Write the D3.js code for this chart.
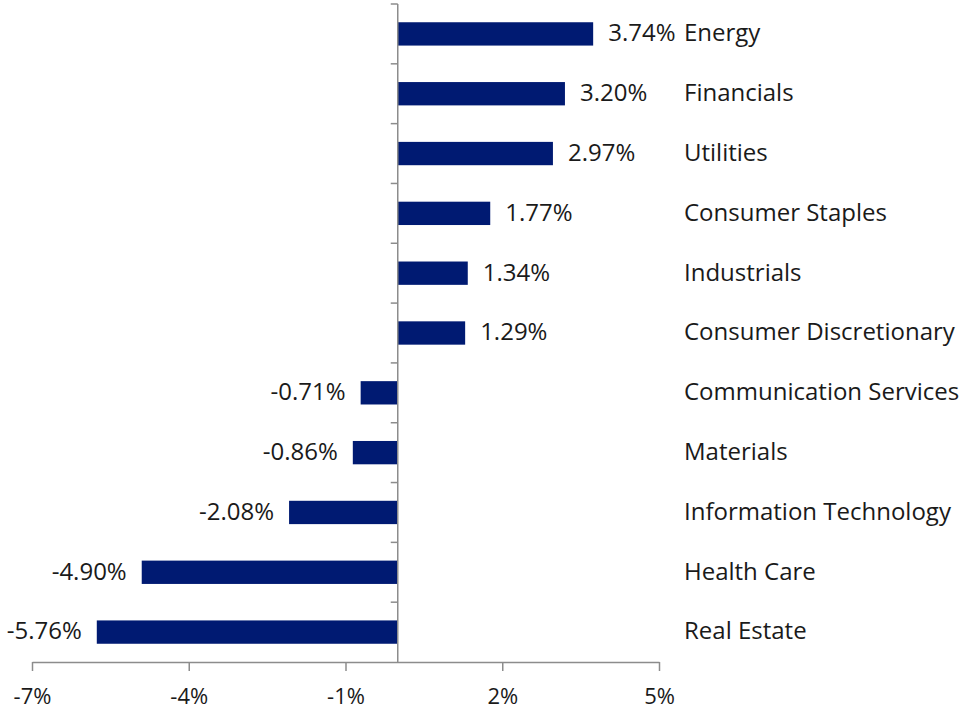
<!DOCTYPE html>
<html>
<head>
<meta charset="utf-8">
<script src="https://cdn.jsdelivr.net/npm/d3@7"></script>
<style>
  body { margin: 0; background: #fff; }
  text { font-family: "Open Sans", sans-serif; fill: #1a1a1a; }
</style>
</head>
<body>
<svg id="chart" width="964" height="717"></svg>
<script>
var sectors = ["Energy", "Financials", "Utilities", "Consumer Staples", "Industrials",
  "Consumer Discretionary", "Communication Services", "Materials",
  "Information Technology", "Health Care", "Real Estate"];
var returns = [3.74, 3.20, 2.97, 1.77, 1.34, 1.29, -0.71, -0.86, -2.08, -4.90, -5.76];
var xTicks = [-7, -4, -1, 2, 5];

var svg = d3.select("svg#chart");
var tickFont = 22;
var labelFont = 24;
var barColor = "#001a72";
var axisColor = "#8c8c8c";

var x = d3.scaleLinear().domain([-7, 5]).range([32, 659]);
var y = d3.scaleBand().domain(sectors).range([4, 662]).paddingInner(0.61).paddingOuter(0.305);

var data = sectors.map(function(s, i) { return { name: s, value: returns[i] }; });

// bars
svg.append("g").selectAll("rect")
  .data(data)
  .enter().append("rect")
  .attr("x", function(d) { return x(Math.min(0, d.value)); })
  .attr("y", function(d) { return y(d.name); })
  .attr("width", function(d) { return Math.abs(x(d.value) - x(0)); })
  .attr("height", y.bandwidth())
  .attr("fill", barColor);

// x axis
var xAxis = svg.append("g")
  .attr("transform", "translate(0,662)")
  .call(d3.axisBottom(x).tickValues(xTicks).tickSize(9).tickSizeOuter(0)
    .tickFormat(function(d) { return d + "%"; }));
xAxis.select(".domain").attr("stroke", axisColor).attr("stroke-width", 1.5);
xAxis.selectAll(".tick line").attr("stroke", axisColor).attr("stroke-width", 1.5);
xAxis.selectAll(".tick text")
  .attr("y", 34)
  .attr("dy", "0.35em")
  .style("font-family", "'Open Sans', sans-serif")
  .style("font-size", tickFont + "px")
  .attr("fill", "#1a1a1a");

// y axis line at zero with boundary ticks
var bounds = d3.range(sectors.length + 1).map(function(i) {
  return 4 + i * (662 - 4) / sectors.length;
});
var yAxis = svg.append("g");
yAxis.append("line")
  .attr("x1", x(0)).attr("x2", x(0))
  .attr("y1", bounds[0]).attr("y2", 662)
  .attr("stroke", axisColor).attr("stroke-width", 1.5);
yAxis.selectAll("line.tk")
  .data(bounds.slice(0, -1))
  .enter().append("line")
  .attr("class", "tk")
  .attr("x1", x(0) - 7).attr("x2", x(0))
  .attr("y1", function(d) { return d; }).attr("y2", function(d) { return d; })
  .attr("stroke", axisColor).attr("stroke-width", 1.5);

// value labels
svg.append("g").selectAll("text")
  .data(data)
  .enter().append("text")
  .attr("x", function(d) { return d.value >= 0 ? x(d.value) + 15 : x(d.value) - 15; })
  .attr("y", function(d) { return y(d.name) + y.bandwidth() / 2 - 1; })
  .attr("dy", "0.35em")
  .attr("text-anchor", function(d) { return d.value >= 0 ? "start" : "end"; })
  .style("font-size", labelFont + "px")
  .text(function(d) { return d.value.toFixed(2) + "%"; });

// category labels
svg.append("g").selectAll("text")
  .data(data)
  .enter().append("text")
  .attr("x", 684)
  .attr("y", function(d) { return y(d.name) + y.bandwidth() / 2 - 1; })
  .attr("dy", "0.35em")
  .style("font-size", labelFont + "px")
  .text(function(d) { return d.name; });
</script>
</body>
</html>
